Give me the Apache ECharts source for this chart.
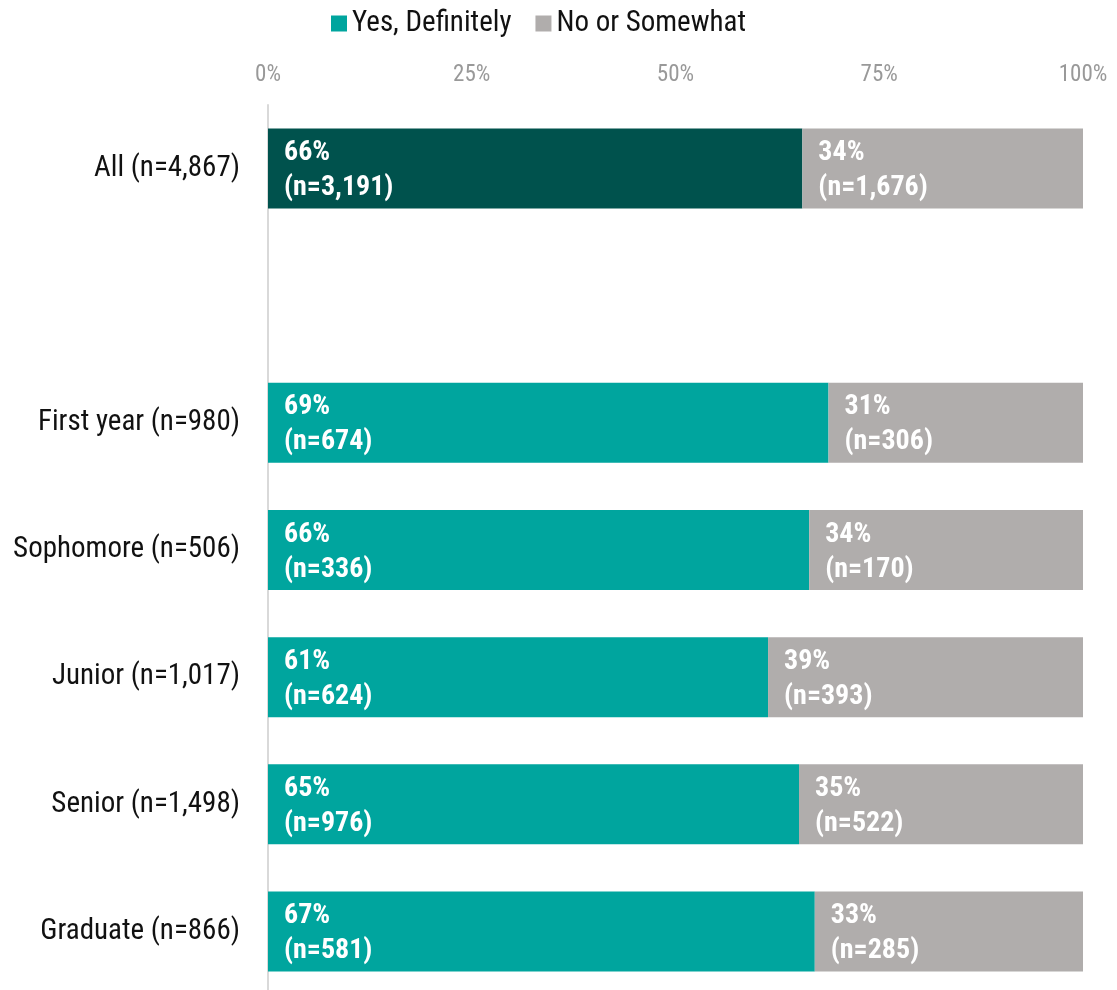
<!DOCTYPE html>
<html>
<head>
  <meta charset="UTF-8">
  <title>Yes, Definitely by class year</title>
  <script type="text/javascript" src="https://cdn.jsdelivr.net/npm/echarts@6/dist/echarts.min.js"></script>
  <style>
    html, body { margin: 0; padding: 0; background: #fff; overflow: hidden; }
  </style>
</head>
<body>
<div id="chart" style="width:1117px; height:1000px;"></div>
<script>
  // ============数据============
  // 空字符串是 All 和 First year 之间的空行
  const categories = ['All (n=4,867)', '', 'First year (n=980)', 'Sophomore (n=506)',
    'Junior (n=1,017)', 'Senior (n=1,498)', 'Graduate (n=866)'];
  const yesCounts = [3191, null, 674, 336, 624, 976, 581];
  const noCounts = [1676, null, 306, 170, 393, 522, 285];
  const tickLabels = ['0%', '25%', '50%', '75%', '100%'];

  const FONT = "'Roboto Condensed', 'Liberation Sans Narrow', 'DejaVu Sans Condensed', Roboto, sans-serif";
  const TEAL = '#00a59e';
  const DARK = '#00524d';
  const GRAY = '#b0adac';

  // 百分比
  function share(a, b) {
    if (a == null) return null;
    return a / (a + b) * 100;
  }
  const yesPct = yesCounts.map((v, i) => share(v, noCounts[i]));
  const noPct = noCounts.map((v, i) => share(v, yesCounts[i]));

  function labelText(pct, n) {
    return Math.round(pct) + '%\n(n=' + n.toLocaleString('en-US') + ')';
  }

  const chart = echarts.init(document.getElementById('chart'), null, {renderer: 'canvas'});

  const barLabel = {
    show: true,
    position: 'insideLeft',
    offset: [11, 2],
    color: '#fff',
    fontFamily: FONT,
    fontWeight: 'bold',
    fontSize: 28,
    lineHeight: 35,
    align: 'left'
  };

  chart.setOption({
    animation: false,
    textStyle: {fontFamily: FONT},
    legend: {
      top: 4,
      left: 326,
      icon: 'rect',
      itemWidth: 16,
      itemHeight: 16,
      itemGap: 24,
      textStyle: {fontSize: 29, color: '#111', fontFamily: FONT},
      data: ['Yes, Definitely', 'No or Somewhat']
    },
    grid: {left: 268, right: 34, top: 105, bottom: 5, containLabel: false},
    xAxis: {
      type: 'value',
      position: 'top',
      min: 0,
      max: 100,
      interval: 25,
      axisLine: {show: false},
      axisTick: {show: false},
      splitLine: {show: false},
      axisLabel: {
        color: '#999',
        fontSize: 23,
        fontFamily: FONT,
        margin: 18,
        formatter: (v) => tickLabels[v / 25]
      }
    },
    yAxis: {
      type: 'category',
      inverse: true,
      data: categories,
      axisLine: {show: true, lineStyle: {color: '#d9d9d9', width: 2}},
      axisTick: {show: false},
      axisLabel: {color: '#111', fontSize: 29, fontFamily: FONT, margin: 28}
    },
    series: [
      {
        name: 'Yes, Definitely',
        type: 'bar',
        stack: 'total',
        barWidth: 80,
        itemStyle: {color: TEAL},
        label: Object.assign({}, barLabel, {
          formatter: (p) => labelText(p.value, yesCounts[p.dataIndex])
        }),
        data: yesPct.map((v, i) => i === 0 ? {value: v, itemStyle: {color: DARK}} : v)
      },
      {
        name: 'No or Somewhat',
        type: 'bar',
        stack: 'total',
        barWidth: 80,
        itemStyle: {color: GRAY},
        label: Object.assign({}, barLabel, {
          formatter: (p) => labelText(p.value, noCounts[p.dataIndex])
        }),
        data: noPct
      }
    ]
  });
</script>
</body>
</html>
